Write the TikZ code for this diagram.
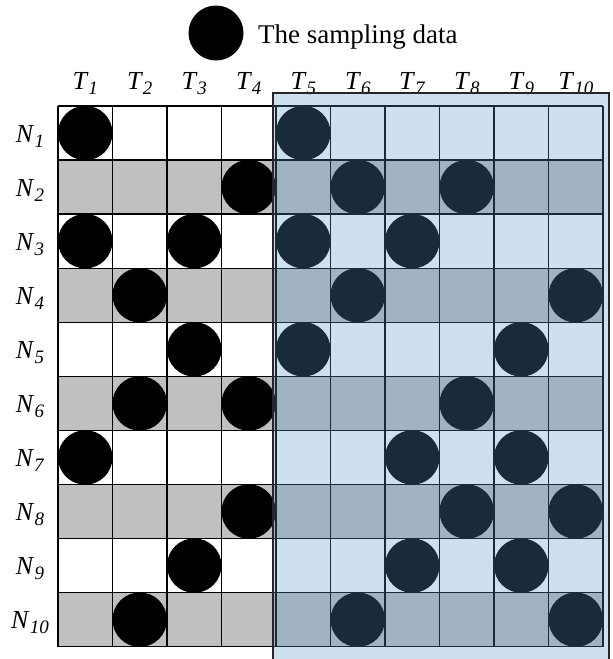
\documentclass[tikz,border=0pt]{standalone}
\usepackage{fontspec}
\setmainfont{Liberation Serif}
\definecolor{gridgray}{RGB}{192,192,192}
\definecolor{overlayblue}{RGB}{93,145,200}
\newcommand{\subl}[2]{\textit{#1}\raisebox{-0.2em}{\fontsize{19}{19}\selectfont\textit{#2}}}
\begin{document}
\begin{tikzpicture}[x=1pt,y=-1pt,
  dot/.style={circle,fill=black,minimum size=54.5pt,inner sep=0pt},
  lbl/.style={inner sep=0pt,font=\fontsize{26}{26}\selectfont},
  gridline/.style={line width=1.4pt,black}]
\useasboundingbox (0,0) rectangle (613,659);
\def\cw{54.5}\def\rh{54.07}
% gray rows
\foreach \r in {2,4,6,8,10}
  \fill[gridgray] (58,{106+(\r-1)*\rh}) rectangle (603,{106+\r*\rh});
% grid lines
\foreach \i in {0,...,10} {
  \draw[gridline] ({58+\i*\cw},106) -- ({58+\i*\cw},{106+10*\rh});
  \draw[gridline] (58,{106+\i*\rh}) -- (603,{106+\i*\rh});
}
% sampling dots
\foreach \r/\c in {1/1,1/5,2/4,2/6,2/8,3/1,3/3,3/5,3/7,4/2,4/6,4/10,5/3,5/5,5/9,6/2,6/4,6/8,7/1,7/7,7/9,8/4,8/8,8/10,9/3,9/7,9/9,10/2,10/6,10/10}
  \node[dot] (d\r-\c) at ({58+(\c-0.5)*\cw},{106+(\r-0.5)*\rh}) {};
% column labels
\foreach \c in {1,...,10}
  \node[lbl,anchor=base] (t\c) at ({58+(\c-0.5)*\cw},89) {\subl{T}{\c}};
% row labels
\foreach \r in {1,...,10}
  \node[lbl,anchor=base] (n\r) at (30,{106+(\r-0.5)*\rh+9}) {\subl{N}{\r}};
% blue overlay
\fill[overlayblue,fill opacity=0.29] (273,93) rectangle (609,659);
\draw[line width=1.3pt,black!85] (273,659) -- (273,93) -- (609,93) -- (609,659);
% legend
\node[dot,minimum size=55pt] (legdot) at (216,33) {};
\node[lbl,anchor=base west,font=\fontsize{27}{27}\selectfont] (legtext) at (258,43) {The sampling data};
\end{tikzpicture}
\end{document}
